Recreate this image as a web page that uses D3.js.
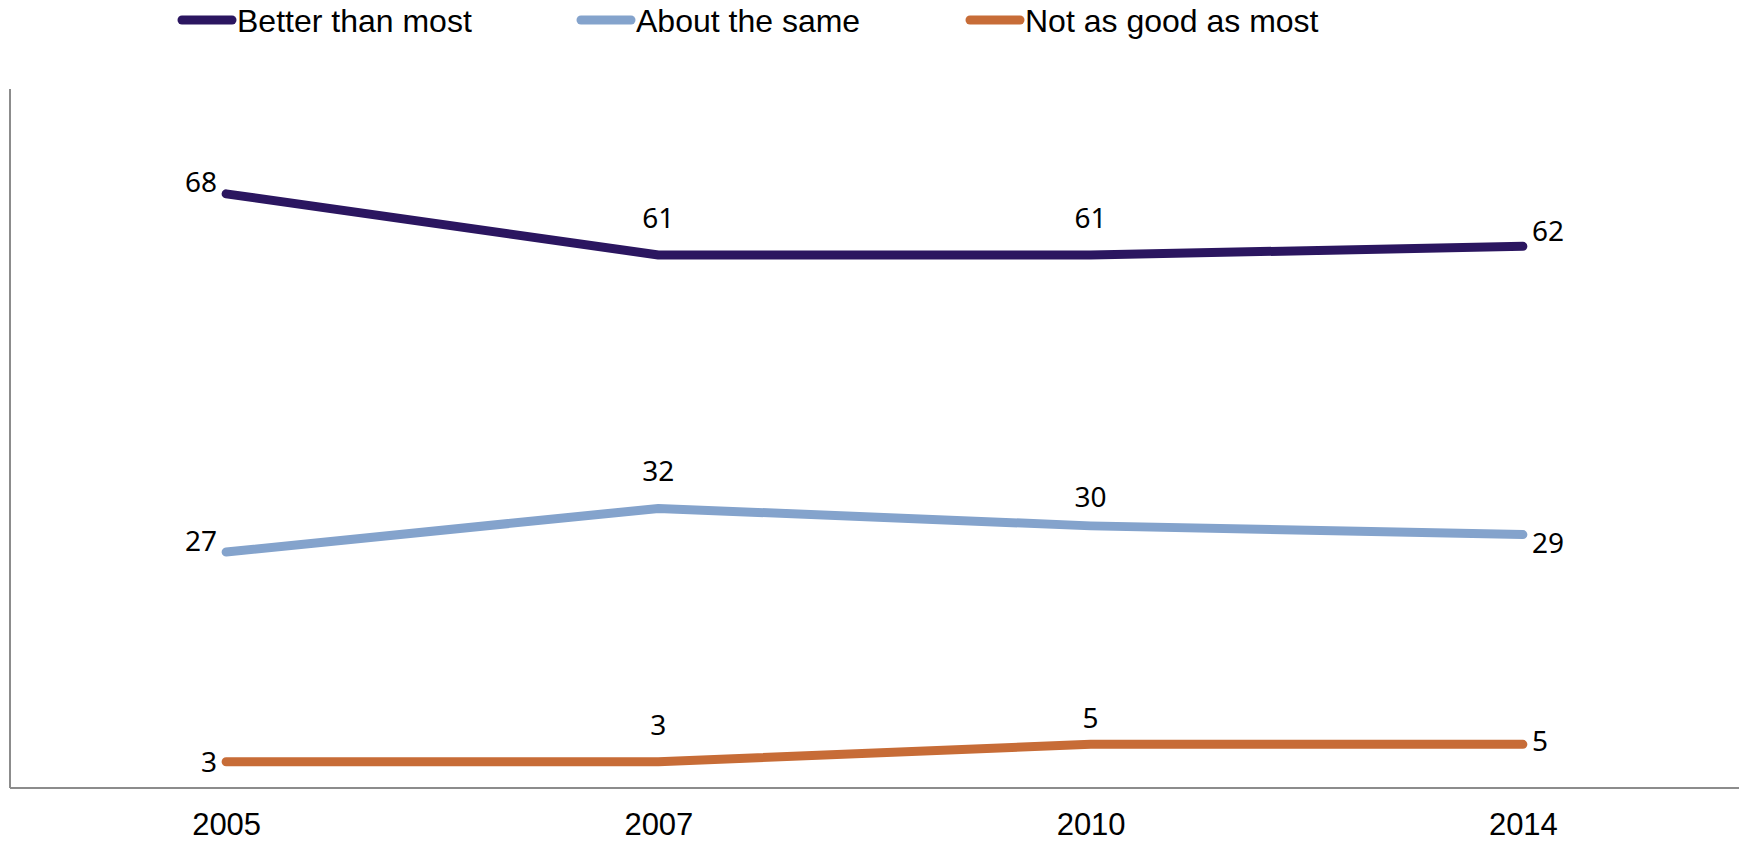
<!DOCTYPE html>
<html><head><meta charset="utf-8">
<script src="https://cdn.jsdelivr.net/npm/d3@7"></script>
<style>body{margin:0;background:#fff}svg{display:block}</style>
</head><body>
<svg id="chart" width="1748" height="842"></svg>
<script>
const years = ["2005", "2007", "2010", "2014"];
const seriesNames = ["Better than most", "About the same", "Not as good as most"];
const betterValues = [68, 61, 61, 62];
const sameValues = [27, 32, 30, 29];
const notGoodValues = [3, 3, 5, 5];
const colors = ["#2B1660", "#84A3CC", "#C76C37"];
// label placement per point: l=left, a=above, r=right
const labelPos = [
  ["l", "a", "a", "r"],
  ["l", "a", "a", "r"],
  ["l", "a", "a", "r"]
];
// small vertical nudges of labels (style)
const labelNudge = [
  [-12, 0, 0, -15],
  [-11, 0, 8, 8],
  [0, 0, 11, -3]
];

const series = [betterValues, sameValues, notGoodValues];
const svg = d3.select("#chart");
const m = {left: 10, right: 9, top: 89, bottom: 54};
const W = 1748, H = 842;
const x = d3.scalePoint().domain(years).range([m.left, W - m.right]).padding(0.5);
const y = d3.scaleLinear().domain([0, 80]).range([H - m.bottom, m.top]);

// axes
const gx = svg.append("g").attr("transform", `translate(0,${H - m.bottom})`)
  .call(d3.axisBottom(x).tickSize(0).tickPadding(25));
gx.select(".domain").attr("stroke", "#8c8c8c").attr("stroke-width", 2)
  .attr("d", `M${m.left},0H${W - m.right}`);
gx.selectAll("text").attr("font-family", "Liberation Sans, Arial, sans-serif")
  .attr("font-size", 31).attr("fill", "#000");

const gy = svg.append("g").attr("transform", `translate(${m.left},0)`)
  .call(d3.axisLeft(y).tickValues([]).tickSize(0));
gy.select(".domain").attr("stroke", "#8c8c8c").attr("stroke-width", 2)
  .attr("d", `M0,${m.top}V${H - m.bottom}`);

const line = d3.line().x((d, i) => x(years[i])).y(d => y(d));
series.forEach((vals, si) => {
  svg.append("path").datum(vals).attr("d", line)
    .attr("fill", "none").attr("stroke", colors[si]).attr("stroke-width", 9)
    .attr("stroke-linecap", "round").attr("stroke-linejoin", "round");
  svg.append("g").selectAll("text").data(vals).join("text")
    .attr("font-family", "Noto Sans, Open Sans, sans-serif").attr("font-size", 28)
    .attr("fill", "#000")
    .attr("x", (d, i) => {
      const p = labelPos[si][i], cx = x(years[i]);
      return p === "l" ? cx - 9 : p === "r" ? cx + 9 : cx;
    })
    .attr("y", (d, i) => {
      const p = labelPos[si][i], cy = y(d);
      return (p === "a" ? cy - 27 : cy + 10) + labelNudge[si][i];
    })
    .attr("text-anchor", (d, i) => {
      const p = labelPos[si][i];
      return p === "l" ? "end" : p === "r" ? "start" : "middle";
    })
    .text(d => d);
});

// legend
const legendX = [178, 577, 966];
const lg = svg.append("g");
seriesNames.forEach((n, i) => {
  lg.append("line").attr("x1", legendX[i] + 4).attr("x2", legendX[i] + 54)
    .attr("y1", 20).attr("y2", 20).attr("stroke", colors[i]).attr("stroke-width", 9)
    .attr("stroke-linecap", "round");
  lg.append("text").attr("x", legendX[i] + 59).attr("y", 32)
    .attr("font-family", "Liberation Sans, Arial, sans-serif").attr("font-size", 32)
    .attr("fill", "#000").text(n);
});
</script>
</body></html>
